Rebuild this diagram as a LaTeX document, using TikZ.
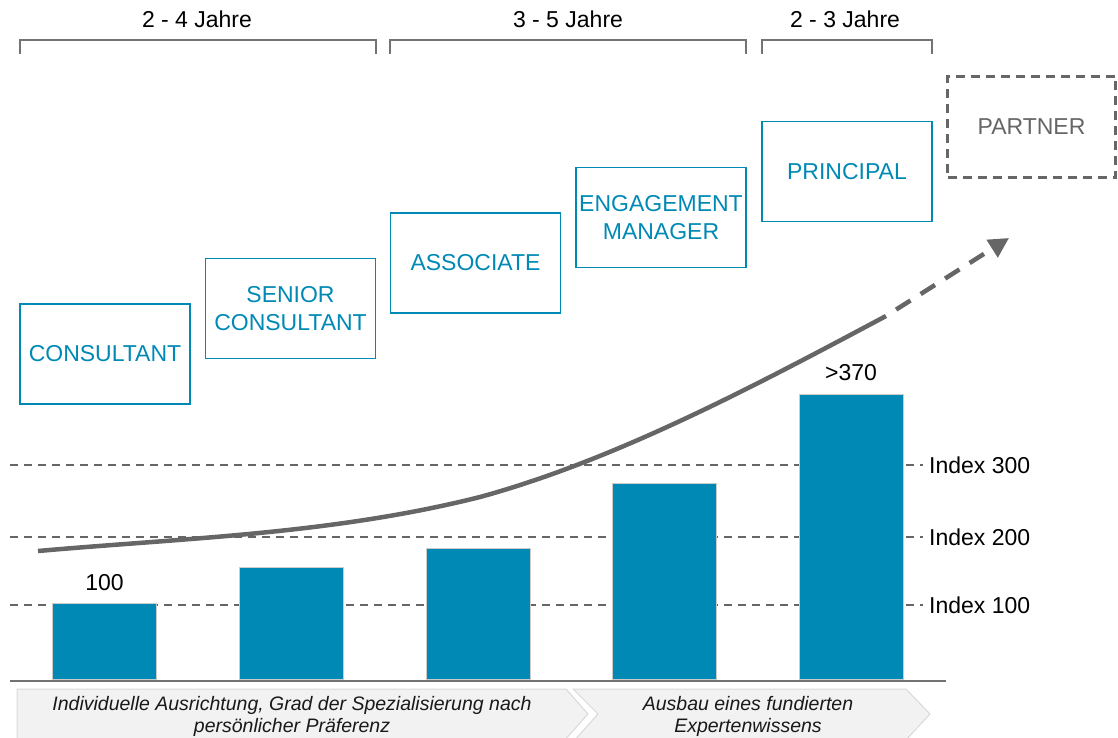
\documentclass[tikz,border=0pt]{standalone}
\usepackage{fontspec}
\setmainfont{Liberation Sans}
\usetikzlibrary{arrows.meta, calc}
\definecolor{rankblue}{RGB}{0,137,181}
\definecolor{linegray}{RGB}{102,102,102}
\definecolor{chevrongray}{RGB}{242,242,242}
\tikzset{
    my-rank/.style={
        draw=rankblue, line width=1.8pt, text=rankblue, minimum width=170pt,
        minimum height=100pt, inner sep=0pt, align=center, font=\fontsize{23}{27.5}\selectfont
    },
    my-partner/.style={
        my-rank, draw=linegray, text=linegray, dash pattern=on 9pt off 6pt, line width=2.6pt
    },
    my-bar/.style={
        fill=rankblue, draw=black!20, line width=1pt, minimum width=104pt, inner sep=0pt, anchor=south
    },
    my-grid/.style={
        linegray, line width=1.6pt, dash pattern=on 8pt off 6pt
    },
    my-bracket/.style={
        draw=black!55, line width=1.6pt
    },
    my-label/.style={
        font=\fontsize{23}{27}\selectfont, inner sep=0pt
    },
    my-chevron/.style={
        fill=chevrongray, draw=black!15, line width=1pt
    },
    my-chevron-text/.style={
        font=\fontsize{19.5}{22}\selectfont\itshape, align=center, inner sep=0pt, text=black!90
    },
    my-trend/.style={
        linegray, line width=4.5pt
    },
}
\begin{document}
\begin{tikzpicture}[x=1pt, y=-1pt]
        \useasboundingbox (0,0) rectangle (1118,738);

        % YEARS AND BRACKETS
        \node[my-label] (YEARS1) at (197,19) {2 - 4 Jahre};
        \node[my-label] (YEARS2) at (568,19) {3 - 5 Jahre};
        \node[my-label] (YEARS3) at (845,19) {2 - 3 Jahre};
        \coordinate (B1L) at (20,54);
        \coordinate (B1R) at (376,54);
        \coordinate (B2L) at (390,54);
        \coordinate (B2R) at (746,54);
        \coordinate (B3L) at (762,54);
        \coordinate (B3R) at (932,54);
        \draw[my-bracket] (B1L) -- ++(0,-14) -| (B1R);
        \draw[my-bracket] (B2L) -- ++(0,-14) -| (B2R);
        \draw[my-bracket] (B3L) -- ++(0,-14) -| (B3R);

        % RANKS
        \node[my-rank]    (CONS)  at (105,354)    {CONSULTANT};
        \node[my-rank]    (SCONS) at (290.5,308.5) {SENIOR\\CONSULTANT};
        \node[my-rank]    (ASSOC) at (475.5,263)  {ASSOCIATE};
        \node[my-rank]    (EM)    at (661,217.5)  {ENGAGEMENT\\MANAGER};
        \node[my-rank]    (PRINC) at (847,171.5)  {PRINCIPAL};
        \node[my-partner, minimum width=168pt, minimum height=101pt] (PART) at (1031.5,127) {PARTNER};

        % INDEX LINES
        \node[my-label, anchor=west] (IDX100) at (929,605) {Index 100};
        \node[my-label, anchor=west] (IDX200) at (929,537) {Index 200};
        \node[my-label, anchor=west] (IDX300) at (929,465) {Index 300};
        \coordinate (G100) at (10,605);
        \coordinate (G200) at (10,537);
        \coordinate (G300) at (10,465);
        \draw[my-grid] (G100) -- ($(IDX100.west) + (-6,0)$);
        \draw[my-grid] (G200) -- ($(IDX200.west) + (-6,0)$);
        \draw[my-grid] (G300) -- ($(IDX300.west) + (-6,0)$);

        % BARS
        \node[my-bar, minimum height=76pt]  (BAR1) at (104.5,680) {};
        \node[my-bar, minimum height=112pt] (BAR2) at (291,680)   {};
        \node[my-bar, minimum height=131pt] (BAR3) at (478,680)   {};
        \node[my-bar, minimum height=196pt] (BAR4) at (664,680)   {};
        \node[my-bar, minimum height=285pt] (BAR5) at (851,680)   {};
        \node[my-label, anchor=south] at ($(BAR1.north) + (0,-12)$) {100};
        \node[my-label, anchor=south] at ($(BAR5.north) + (0,-13)$) {>370};

        % BASELINE
        \coordinate (BASEL) at (10,681);
        \coordinate (BASER) at (946,681);
        \draw[line width=2pt, black!55] (BASEL) -- (BASER);

        % TREND CURVE WITH DASHED ARROW
        \coordinate (TRENDSTART) at (38,551);
        \coordinate (TRENDMID)   at (480,497);
        \coordinate (TRENDEND)   at (886,316);
        \coordinate (TRENDTIP)   at (1009,238);
        \coordinate (DASHSTART)  at ($(TRENDEND)!12pt!(TRENDTIP)$);
        \draw[my-trend] (TRENDSTART) .. controls (185,538) and (333,534) .. (TRENDMID)
                                     .. controls (615,460) and (751,388) .. (TRENDEND);
        \draw[my-trend, dash pattern=on 17pt off 12pt, -{Triangle[length=20pt, width=20pt]}] (DASHSTART) -- (TRENDTIP);

        % CHEVRONS
        \draw[my-chevron] (17,742) -- (17,689) -- (566,689) -- (588,714) -- (563,742);
        \draw[my-chevron] (573,742) -- (598,714) -- (573,689) -- (906,689) -- (930,714) -- (904,742);
        \node[my-chevron-text] (TEXT1) at (292,716) {Individuelle Ausrichtung, Grad der Spezialisierung nach\\persönlicher Präferenz};
        \node[my-chevron-text] (TEXT2) at (748,716) {Ausbau eines fundierten\\Expertenwissens};

    \end{tikzpicture}
\end{document}
